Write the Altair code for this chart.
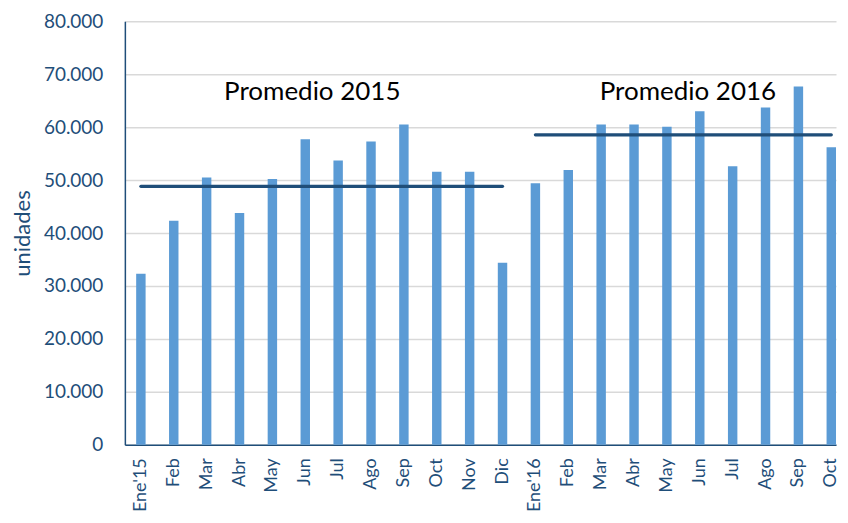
import altair as alt
import pandas as pd

months = ["Ene'15", "Feb 15", "Mar 15", "Abr 15", "May 15", "Jun 15", "Jul 15", "Ago 15",
          "Sep 15", "Oct 15", "Nov 15", "Dic 15",
          "Ene'16", "Feb 16", "Mar 16", "Abr 16", "May 16", "Jun 16", "Jul 16", "Ago 16",
          "Sep 16", "Oct 16"]
years = [2015] * 12 + [2016] * 10
units = [32300, 42300, 50500, 43800, 50200, 57700, 53700, 57300, 60500, 51600, 51600, 34400,
         49400, 51900, 60500, 60500, 60100, 63000, 52600, 63700, 67700, 56200]

avg_years = [2015, 2016]
avg_start = ["Ene'15", "Ene'16"]
avg_end = ["Dic 15", "Oct 16"]
avg_labels = ["Promedio 2015", "Promedio 2016"]
label_pos = ["Jun 15", "May 16"]

df = pd.DataFrame({"mes": months, "anio": years, "unidades": units})
avg_vals = [round(df[df.anio == y].unidades.mean()) for y in avg_years]
avg_df = pd.DataFrame({"anio": avg_years, "x1": avg_start, "x2": avg_end, "prom": avg_vals,
                       "label": avg_labels, "lx": label_pos})

FONT = "Lato"
DARK = "#1F4E79"

xscale = alt.Scale(domain=months, paddingInner=0.713, paddingOuter=0.172, align=1)
yscale = alt.Scale(domain=[0, 80000], nice=False)

bars = alt.Chart(df).mark_bar(color="#5B9BD5").encode(
    x=alt.X("mes:N", scale=xscale, sort=months, title=None,
            axis=alt.Axis(labelExpr="split(datum.value, ' ')[0]", labelAngle=270,
                          labelAlign="right", labelBaseline="middle", labelPadding=13,
                          ticks=False, domainColor=DARK, domainWidth=1.5,
                          labelColor=DARK, labelFont=FONT, labelFontSize=18)),
    y=alt.Y("unidades:Q", scale=yscale, title="unidades",
            axis=alt.Axis(values=[0, 10000, 20000, 30000, 40000, 50000, 60000, 70000, 80000],
                          labelExpr="replace(format(datum.value, ','), ',', '.')",
                          ticks=False, domainColor=DARK, domainWidth=1.5,
                          labelColor=DARK, labelFont=FONT, labelFontSize=19, labelPadding=22,
                          gridColor="#D9D9D9", gridWidth=1.5,
                          titleColor=DARK, titleFont=FONT, titleFontSize=22,
                          titleFontWeight="normal", titlePadding=9)),
)

rules = alt.Chart(avg_df).mark_rule(color=DARK, strokeWidth=3.2, strokeCap="round").encode(
    x=alt.X("x1:N", scale=xscale, sort=months),
    x2="x2:N",
    y=alt.Y("prom:Q", scale=yscale),
)

lab1 = alt.Chart(avg_df[avg_df.anio == 2015]).mark_text(
    font=FONT, fontSize=26, color="black", dx=7).encode(
    x=alt.X("lx:N", scale=xscale, sort=months), y=alt.value(71), text="label:N")
lab2 = alt.Chart(avg_df[avg_df.anio == 2016]).mark_text(
    font=FONT, fontSize=26, color="black", dx=21).encode(
    x=alt.X("lx:N", scale=xscale, sort=months), y=alt.value(71), text="label:N")

chart = alt.layer(bars, rules, lab1, lab2).properties(
    width=712, height=424,
    autosize=alt.AutoSizeParams(type="none"),
    padding={"left": 117, "top": 13, "right": 4, "bottom": 70},
).configure_view(stroke=None).configure_axisY(grid=True).configure_axisX(grid=False)

chart.save("out.html", embed_options={"renderer": "svg", "actions": False})
